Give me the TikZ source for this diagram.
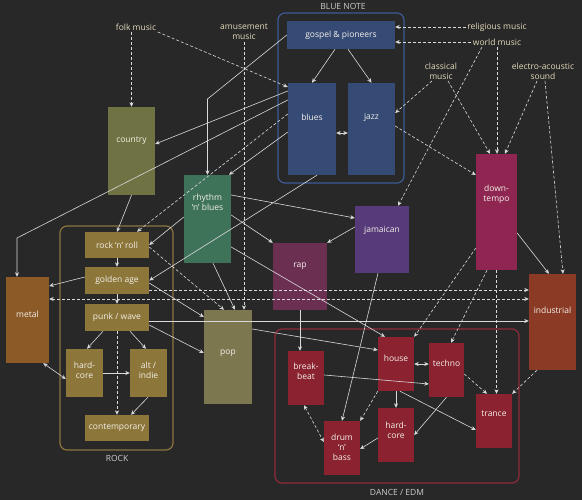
\documentclass[tikz,border=0pt]{standalone}
\usepackage{fontspec}
\setmainfont{Open Sans}
\usetikzlibrary{arrows.meta}

\definecolor{bgcol}{HTML}{282828}
\definecolor{linecol}{HTML}{DADADA}
\definecolor{boxtext}{HTML}{F4F1EA}
\definecolor{srctext}{HTML}{E4DABC}
\definecolor{grptext}{HTML}{CCCCCC}
\definecolor{bluebox}{HTML}{354A75}
\definecolor{bluegrp}{HTML}{3D5A96}
\definecolor{rockbox}{HTML}{8C7639}
\definecolor{rockgrp}{HTML}{8D7440}
\definecolor{dancebox}{HTML}{8A2230}
\definecolor{dancegrp}{HTML}{8F2A3A}
\definecolor{countrybox}{HTML}{6F7343}
\definecolor{rnbbox}{HTML}{3F7359}
\definecolor{metalbox}{HTML}{8B5A26}
\definecolor{popbox}{HTML}{7D774F}
\definecolor{rapbox}{HTML}{6B2F52}
\definecolor{jambox}{HTML}{563A7A}
\definecolor{downbox}{HTML}{8F2551}
\definecolor{indbox}{HTML}{8B3A26}

\tikzset{
  box/.style n args={3}{fill=#1, minimum width=#2pt, minimum height=#3pt, inner sep=0pt},
  lbl/.style={text=boxtext, font=\fontsize{8.5}{10}\selectfont, align=center, inner sep=0pt},
  src/.style={text=srctext, font=\fontsize{8.5}{10}\selectfont, align=center, inner sep=1.5pt},
  grplbl/.style={text=grptext, font=\fontsize{8.5}{10}\selectfont, inner sep=0pt},
  grp/.style={draw=#1, line width=1.2pt, rounded corners=7pt},
  arr/.style={draw=linecol, line width=0.6pt, -{Stealth[length=4.5pt,width=4pt]}},
  dsh/.style={arr, dash pattern=on 3pt off 2pt},
  dbl/.style={draw=linecol, line width=0.6pt, {Stealth[length=4.5pt,width=4pt]}-{Stealth[length=4.5pt,width=4pt]}},
}

\begin{document}
\begin{tikzpicture}[x=1pt, y=-1pt]
  \fill[bgcol] (0,0) rectangle (582,500) ;
  \useasboundingbox (0,0) rectangle (582,500) ;

  % groups
  \draw[grp=bluegrp] (278,13) rectangle (404,183) ;
  \node[grplbl] (bluenote) at (343,6) {BLUE NOTE} ;
  \draw[grp=rockgrp] (60,226) rectangle (173,450) ;
  \node[grplbl] (rock) at (117,458) {ROCK} ;
  \draw[grp=dancegrp] (275,329) rectangle (519,483) ;
  \node[grplbl] (dance) at (397,492) {DANCE / EDM} ;

  % sources
  \node[src] (folk) at (136,27) {folk music} ;
  \node[src] (amuse) at (244,32) {amusement\\music} ;
  \node[src] (relig) at (497,27) {religious music} ;
  \node[src] (world) at (497,42) {world music} ;
  \node[src] (classic) at (441,71) {classical\\music} ;
  \node[src] (electro) at (543,71) {electro-acoustic\\sound} ;

  % genres
  \node[box={bluebox}{108}{28}, label={[lbl]center:gospel \& pioneers}] (gospel) at (341,35) {} ;
  \node[box={bluebox}{48}{92}, label={[lbl,yshift=12pt]center:blues}] (blues) at (312,129) {} ;
  \node[box={bluebox}{47}{92}, label={[lbl,yshift=12pt]center:jazz}] (jazz) at (371.5,129) {} ;
  \node[box={countrybox}{47}{88}, label={[lbl,yshift=10pt]center:country}] (country) at (131.5,151) {} ;
  \node[box={rnbbox}{47}{88}, label={[lbl,yshift=17pt]center:{rhythm\\‘n’ blues}}] (rnb) at (207.5,219) {} ;
  \node[box={downbox}{41}{116}, label={[lbl,yshift=18pt]center:{down-\\tempo}}] (down) at (496.5,212) {} ;
  \node[box={jambox}{54}{67}, label={[lbl,yshift=9pt]center:jamaican}] (jamaican) at (382,239.5) {} ;
  \node[box={rapbox}{54}{67}, label={[lbl,yshift=10pt]center:rap}] (rap) at (300,276.5) {} ;
  \node[box={indbox}{47}{96}, label={[lbl,yshift=12pt]center:industrial}] (industrial) at (552.5,322) {} ;
  \node[box={metalbox}{43}{86}, label={[lbl,yshift=6pt]center:metal}] (metal) at (27.5,320) {} ;
  \node[box={popbox}{48}{94}, label={[lbl,yshift=4pt]center:pop}] (pop) at (228,357) {} ;
  \node[box={rockbox}{64}{26}, label={[lbl]center:rock ‘n’ roll}] (rnr) at (117,245) {} ;
  \node[box={rockbox}{64}{27}, label={[lbl]center:golden age}] (golden) at (117,280.5) {} ;
  \node[box={rockbox}{64}{27}, label={[lbl]center:punk / wave}] (punk) at (117,317.5) {} ;
  \node[box={rockbox}{37}{48}, label={[lbl,yshift=3pt]center:{hard-\\core}}] (rhard) at (84.5,373) {} ;
  \node[box={rockbox}{37}{48}, label={[lbl,yshift=3pt]center:{alt /\\indie}}] (alt) at (148.5,373) {} ;
  \node[box={rockbox}{64}{26}, label={[lbl]center:contemporary}] (contemp) at (117,428) {} ;
  \node[box={dancebox}{36}{54}, label={[lbl,yshift=6pt]center:house}] (house) at (396,364) {} ;
  \node[box={dancebox}{35}{54}, label={[lbl,yshift=7pt]center:techno}] (techno) at (446.5,370) {} ;
  \node[box={dancebox}{36}{54}, label={[lbl,yshift=7pt]center:{break-\\beat}}] (brk) at (306,378) {} ;
  \node[box={dancebox}{36}{54}, label={[lbl,yshift=1pt]center:{drum\\‘n’\\bass}}] (dnb) at (342,448) {} ;
  \node[box={dancebox}{36}{54}, label={[lbl,yshift=5pt]center:{hard-\\core}}] (dhard) at (396,435) {} ;
  \node[box={dancebox}{36}{54}, label={[lbl,yshift=7pt]center:trance}] (trance) at (494,421) {} ;

  % sources into genres
  \draw[dsh] (folk.south -| country.north) -- (country.north) ;
  \draw[dsh] (folk.south east) -- (blues.west |- 0,87) ;
  \draw[dsh] (amuse.south) -- (amuse.south |- pop.north) ;
  \draw[dsh] (relig.west) -- (gospel.east |- relig.west) ;
  \draw[dsh] (world.west) -- (gospel.east |- world.west) ;
  \draw[dsh] ([xshift=-9pt]classic.south) -- (jazz.east |- 0,113) ;
  \draw[dsh] ([xshift=7pt]classic.south) -- (down.north -| 490,0) ;
  \draw[dsh] (world.south) -- (world.south |- down.north) ;
  \draw[dsh] ([xshift=-6pt]electro.south) -- (down.north -| 505,0) ;
  \draw[dsh] ([xshift=-15pt]world.south) -- (jamaican.north -| 398,0) ;
  \draw[dsh] ([xshift=2pt]electro.south) -- (industrial.north -| 563,0) ;

  % blue note
  \draw[arr] (gospel.south -| 335,0) -- (blues.north) ;
  \draw[arr] (gospel.south -| 348,0) -- (jazz.north) ;
  \draw[dbl] (blues.east |- 0,133) -- (jazz.west |- 0,133) ;
  \draw[arr] (gospel.west) -- (rnb.north |- 0,99) -- (rnb.north) ;
  \draw[arr] (blues.west |- 0,91) -- (country.east |- 0,144) ;
  \draw[arr] (blues.west |- 0,100) -- (17,238) -- (metal.north -| 17,0) ;
  \draw[dsh] (blues.west |- 0,114) -- (rnr.north -| 137,0) ;
  \draw[arr] (blues.west |- 0,132) -- (rnb.north -| 229,0) ;
  \draw[arr] (blues.south -| 317,0) -- (golden.east) ;
  \draw[dsh] (jazz.east |- 0,126) -- (down.west |- 0,175) ;

  % country, r'n'b, jamaican
  \draw[arr] (country.south) -- (rnr.north) ;
  \draw[arr] (rnb.west |- 0,217) -- (rnr.east) ;
  \draw[arr] (rnb.east |- 0,195) -- (jamaican.west |- 0,218) ;
  \draw[arr] (rnb.east |- 0,215) -- (rap.north west) ;
  \draw[arr] (rnb.east |- 0,247) -- (house.north -| 385,0) ;
  \draw[arr] (rnb.south -| 213,0) -- (pop.north -| 235,0) ;
  \draw[arr] (jamaican.west |- 0,227) -- (rap.north east) ;
  \draw[arr] (jamaican.south -| 378,0) -- (dnb.north) ;

  % rock
  \draw[arr] (rnr.south) -- (golden.north) ;
  \draw[arr] (golden.south) -- (punk.north) ;
  \draw[dsh] (rnr.east |- 0,247) -- (pop.north -| 224,0) ;
  \draw[arr] (golden.west |- 0,277) -- (metal.east |- 0,286) ;
  \draw[arr] (golden.east |- 0,283) -- (pop.west |- 0,317) ;
  \draw[dsh] (golden.east |- 0,290) -- (industrial.west |- 0,290) ;
  \draw[dsh, {Stealth[length=4.5pt,width=4pt]}-{Stealth[length=4.5pt,width=4pt]}] (metal.east |- 0,299) -- (industrial.west |- 0,299) ;
  \draw[arr] (punk.east |- 0,321) -- (industrial.west |- 0,321) ;
  \draw[arr] (punk.east |- 0,325) -- (pop.west |- 0,353) ;
  \draw[arr] (punk.south -| 103,0) -- (rhard.north -| 87,0) ;
  \draw[arr] (punk.south -| 130,0) -- (alt.north -| 146,0) ;
  \draw[dsh] (punk.south) -- (contemp.north) ;
  \draw[arr] (rhard.east) -- (alt.west) ;
  \draw[arr] (alt.south -| 148,0) -- (contemp.north -| 131,0) ;
  \draw[dbl] ([xshift=-6pt]metal.south east) -- (rhard.west |- 0,379) ;

  % downtempo, industrial
  \draw[arr] (down.east |- 0,233) -- (industrial.north -| 549,0) ;
  \draw[dsh] (down.west |- 0,248) -- (house.north east) ;
  \draw[dsh] (down.south -| 487,0) -- (techno.north -| 451,0) ;
  \draw[dsh] (down.south) -- (down.south |- trance.north) ;
  \draw[dsh] (industrial.south -| 537,0) -- (trance.north east) ;

  % dance / edm
  \draw[arr] (pop.east |- 0,329) -- (house.west |- 0,350) ;
  \draw[arr] (rap.south) -- (rap.south |- brk.north) ;
  \draw[dbl] (house.east |- 0,364) -- (techno.west |- 0,364) ;
  \draw[dsh] (techno.east |- 0,374) -- (trance.north -| 487,0) ;
  \draw[arr] (house.south) -- (dhard.north) ;
  \draw[arr] (house.south -| 400,0) -- (trance.west |- 0,430) ;
  \draw[dsh] (house.south west) -- (dnb.north east) ;
  \draw[arr] (techno.south) -- (dhard.east) ;
  \draw[arr] (dhard.west |- 0,438) -- (dnb.east |- 0,449) ;
  \draw[arr] (brk.east |- 0,375) -- (techno.west |- 0,384) ;
  \draw[dsh, {Stealth[length=4.5pt,width=4pt]}-{Stealth[length=4.5pt,width=4pt]}] (brk.south -| 304,0) -- (dnb.west |- 0,442) ;
\end{tikzpicture}
\end{document}
